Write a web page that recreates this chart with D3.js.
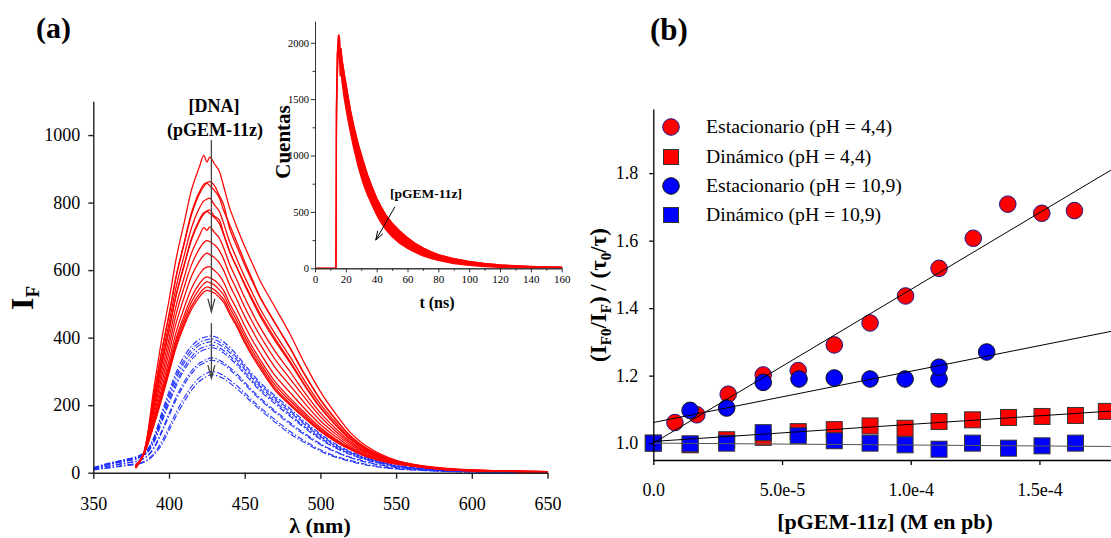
<!DOCTYPE html>
<html><head><meta charset="utf-8">
<script src="https://cdn.jsdelivr.net/npm/d3@7"></script>
<style>
body{margin:0;background:#fff}
svg{display:block}
text{font-family:"Liberation Serif","Times New Roman","DejaVu Serif",serif;fill:#000}
</style>
</head><body>
<svg id="c" width="1111" height="538"></svg>
<script>
// ---------- Panel (a): emission spectra ----------
const lambdaRed = [378,383,390,395,400,405,410,415,420,423,425,427,430,433,436,440,445,450,455,460,470,480,490,500,510,520,530,545,560,580,600,625,650];
const redSpectra = [
 [18,55,250,390,510,640,740,840,905,940,920,935,915,895,850,785,725,670,620,570,490,410,320,240,175,118,80,45,26,14,8,5,3],
 [18,54,229,356,469,589,681,772,831,854,859,862,850,823,795,724,668,615,567,520,443,370,289,217,159,108,74,42,25,13,8,5,3],
 [20,53,227,354,465,585,677,766,825,848,857,850,836,817,778,735,680,625,573,522,444,368,287,216,158,108,73,42,25,13,8,5,3],
 [16,53,215,334,442,556,643,727,783,805,810,813,793,776,740,685,631,580,533,487,412,343,269,203,149,102,70,40,24,13,7,5,3],
 [22,53,205,319,423,533,616,696,749,770,775,778,760,750,710,657,606,555,509,465,391,325,255,192,141,98,67,39,24,12,7,5,3],
 [14,52,203,316,420,529,612,691,744,766,773,768,756,740,706,655,606,560,515,472,398,330,258,194,142,98,67,39,24,12,7,5,3],
 [18,52,192,297,396,500,578,652,701,726,718,728,712,696,667,618,569,519,474,432,360,299,235,177,131,92,63,37,23,12,7,4,2],
 [20,52,181,280,375,474,549,617,663,682,687,684,675,660,634,587,540,491,447,407,336,278,220,166,123,87,60,36,22,11,6,4,2],
 [15,51,170,263,354,448,519,583,626,644,650,646,637,623,600,557,511,463,421,382,312,258,204,154,115,82,57,34,22,11,6,4,2],
 [19,51,159,246,333,421,488,547,587,604,609,610,599,586,565,525,482,435,393,356,288,237,188,143,107,77,54,33,21,10,6,4,2],
 [17,50,151,233,317,402,466,521,559,575,580,577,570,558,540,502,460,414,373,336,270,221,176,134,100,73,51,32,21,10,6,4,2],
 [21,50,147,226,308,392,454,507,544,560,565,563,556,543,527,490,448,403,362,326,260,213,170,129,97,71,50,31,20,10,6,4,2],
 [13,50,143,219,300,382,443,494,530,545,550,548,542,529,514,478,437,392,352,317,251,205,164,125,94,69,49,30,20,10,6,4,2],
 [18,50,140,215,295,375,435,485,520,535,540,538,532,520,505,470,430,385,345,310,245,200,160,122,92,68,48,30,20,10,6,4,2]
];
const lambdaBlue = [350,360,370,380,385,390,395,400,405,410,415,420,425,428,432,436,440,445,450,455,460,470,480,490,500,510,520,530,540,550,565,580,600,625,650];
const blueSpectra = [
 [15,28,38,50,65,105,175,240,300,345,375,395,403,405,400,388,372,348,320,293,268,228,190,150,115,85,62,45,32,22,13,8,5,3,2],
 [14,27,37,48,63,101,168,231,290,334,365,385,394,396,391,379,364,340,313,286,262,222,184,145,111,82,60,43,31,21,13,8,5,3,2],
 [14,26,35,46,60,97,161,223,281,325,356,377,386,388,383,372,356,333,306,280,256,216,179,141,107,79,58,42,30,20,12,7,5,3,2],
 [13,25,34,44,58,93,153,213,269,313,344,366,375,378,373,362,347,325,298,273,249,210,172,135,103,76,55,40,28,19,12,7,4,3,2],
 [13,24,33,43,56,89,147,205,260,304,335,357,367,370,366,355,340,318,292,267,243,204,167,131,99,73,53,38,27,19,11,7,4,2,2],
 [11,20,28,36,47,75,122,175,227,269,302,324,336,340,336,326,312,292,268,244,222,184,148,115,86,63,46,33,23,16,10,6,3,2,1],
 [11,19,27,35,46,72,117,168,219,260,294,317,329,333,329,320,306,285,262,239,217,179,143,111,83,61,44,31,22,15,9,5,3,2,1],
 [9,15,22,28,37,57,90,135,181,222,256,281,295,300,297,288,275,257,236,214,194,157,122,93,68,49,36,25,17,12,8,4,2,1,1],
 [8,14,20,26,34,52,82,125,170,210,245,270,285,290,287,279,266,248,228,207,187,150,115,88,64,46,33,23,16,11,7,4,2,1,1]
];
const xTicksA = [350,400,450,500,550,600,650];
const yTicksA = [0,200,400,600,800,1000];

// ---------- Inset: decay ----------
const decayT  = [0,13.6,13.9,14.5,15.3,15.8,16.3,16.8,17.5,19,21,23,25,28,31,34,37,40,43,46,50,55,60,65,70,75,80,90,100,110,120,130,140,150,160];
const decayHi = [0,0,1400,1900,2070,2050,1900,1950,1850,1720,1560,1400,1270,1100,960,830,720,620,540,470,400,330,270,220,180,148,120,85,60,42,30,22,16,12,10];
const decayLo = [0,0,1200,1700,1950,1900,1700,1780,1650,1500,1340,1200,1070,900,760,650,560,470,400,340,280,220,175,140,110,88,70,42,25,15,8,5,3,2,1];
const xTicksI = [0,20,40,60,80,100,120,140,160];
const yTicksI = [0,500,1000,1500,2000];

// ---------- Panel (b): Stern-Volmer ----------
const redCircX = [0.84e-5,1.69e-5,2.91e-5,4.27e-5,5.63e-5,7.03e-5,8.42e-5,9.8e-5,1.11e-4,1.243e-4,1.377e-4,1.509e-4,1.636e-4];
const redCircY = [1.061,1.084,1.145,1.202,1.215,1.291,1.356,1.436,1.518,1.607,1.708,1.681,1.689];
const redSqX = [0,1.43e-5,2.85e-5,4.27e-5,5.63e-5,7.03e-5,8.42e-5,9.78e-5,1.11e-4,1.24e-4,1.38e-4,1.51e-4,1.64e-4,1.76e-4];
const redSqY = [1.0,0.995,1.01,1.017,1.034,1.04,1.051,1.044,1.064,1.069,1.076,1.079,1.082,1.094];
const blueCircX = [1.43e-5,2.85e-5,4.27e-5,5.66e-5,7.03e-5,8.42e-5,9.78e-5,1.11e-4,1.11e-4,1.295e-4];
const blueCircY = [1.097,1.104,1.18,1.19,1.193,1.19,1.19,1.19,1.225,1.27];
const blueSqX = [0,1.43e-5,2.85e-5,4.27e-5,5.63e-5,7.03e-5,8.42e-5,9.78e-5,1.11e-4,1.24e-4,1.38e-4,1.51e-4,1.64e-4];
const blueSqY = [1.0,0.998,1.0,1.031,1.022,1.007,1.0,0.995,0.982,1.0,0.985,0.992,1.0];
const fitIntercepts = [1.0, 1.005, 1.061, 1.0];
const fitSlopes = [4550, 506, 1519, -56];
const legendLabels = ["Estacionario (pH = 4,4)","Dinámico (pH = 4,4)","Estacionario (pH = 10,9)","Dinámico (pH = 10,9)"];
const xTicksB = [0,5e-5,1e-4,1.5e-4];
const xTickLabelsB = ["0.0","5.0e-5","1.0e-4","1.5e-4"];
const yTicksB = [1.0,1.2,1.4,1.6,1.8];

const svg = d3.select("#c");
const SERIF = '"Liberation Serif","Times New Roman","DejaVu Serif",serif';

function styleAxis(g, fs, col, w){
  g.attr("font-family",SERIF);
  g.select(".domain").attr("stroke",col).attr("stroke-width",w);
  g.selectAll(".tick line").attr("stroke",col).attr("stroke-width",w);
  g.selectAll(".tick text").attr("font-family",SERIF).attr("font-size",fs).attr("fill","#000");
}

// ===== Panel (a) =====
const xA = d3.scaleLinear().domain([350,650]).range([93.3,547.5]);
const yA = d3.scaleLinear().domain([0,1100]).range([472.7,101.3]);

const gA = svg.append("g");
const lineR = d3.line().x((d,i)=>xA(lambdaRed[i])).y(d=>yA(d)).curve(d3.curveCatmullRom.alpha(0.5));
const lineB = d3.line().x((d,i)=>xA(lambdaBlue[i])).y(d=>yA(d)).curve(d3.curveCatmullRom.alpha(0.5));

gA.selectAll("path.blue").data(blueSpectra).join("path").attr("class","blue")
  .attr("d",lineB).attr("fill","none").attr("stroke","#2030ff").attr("stroke-width",1.1)
  .attr("stroke-dasharray","6,2,1.5,2");
gA.selectAll("path.red").data(redSpectra).join("path").attr("class","red")
  .attr("d",lineR).attr("fill","none").attr("stroke","#ff0000").attr("stroke-width",1.25);

const fmtInt = d3.format("d");
const axXA = svg.append("g").attr("transform","translate(0,472.7)")
  .call(d3.axisBottom(xA).tickValues(xTicksA).tickFormat(fmtInt).tickSize(6).tickPadding(19).tickSizeOuter(0));
styleAxis(axXA,18,"#222",1.4);
const axYA = svg.append("g").attr("transform","translate(93.3,0)")
  .call(d3.axisLeft(yA).tickValues(yTicksA).tickFormat(fmtInt).tickSize(5).tickPadding(8).tickSizeOuter(0));
styleAxis(axYA,18,"#222",1.4);

// arrows
function arrow(g, x1,y1,x2,y2,col,w,hl,hw){
  g.append("line").attr("x1",x1).attr("y1",y1).attr("x2",x2).attr("y2",y2).attr("stroke",col).attr("stroke-width",w);
  const a = Math.atan2(y2-y1,x2-x1);
  const p1=[x2-hl*Math.cos(a)+hw*Math.sin(a), y2-hl*Math.sin(a)-hw*Math.cos(a)];
  const p2=[x2-hl*Math.cos(a)-hw*Math.sin(a), y2-hl*Math.sin(a)+hw*Math.cos(a)];
  g.append("path").attr("d",`M${p1[0]},${p1[1]}L${x2},${y2}L${p2[0]},${p2[1]}`)
    .attr("fill","none").attr("stroke",col).attr("stroke-width",w);
}
arrow(gA, xA(428), yA(985), xA(428), yA(477), "#444", 1.3, 13, 3.5);
arrow(gA, xA(428), yA(443), xA(428), yA(280), "#444", 1.3, 13, 3.5);

svg.append("text").attr("x",214).attr("y",112).attr("text-anchor","middle")
  .attr("font-weight","bold").attr("font-size",18).text("[DNA]");
svg.append("text").attr("x",215).attr("y",136).attr("text-anchor","middle")
  .attr("font-weight","bold").attr("font-size",18).text("(pGEM-11z)");

const ifl = svg.append("text").attr("transform","translate(33,298) rotate(-90)").attr("text-anchor","middle")
  .attr("font-weight","bold").attr("font-size",32);
ifl.append("tspan").text("I");
ifl.append("tspan").attr("font-size",19).attr("dy",6).text("F");

svg.append("text").attr("x",320).attr("y",533).attr("text-anchor","middle")
  .attr("font-weight","bold").attr("font-size",22).text("λ (nm)");

svg.append("text").attr("x",36).attr("y",38).attr("font-weight","bold").attr("font-size",30).text("(a)");

// ===== Inset =====
const xI = d3.scaleLinear().domain([0,160]).range([315,561.7]);
const yI = d3.scaleLinear().domain([0,2190]).range([268.3,21.3]);
const gI = svg.append("g");
const areaI = d3.area().x((d,i)=>xI(decayT[i])).y0((d,i)=>yI(decayLo[i])).y1(d=>yI(d));
gI.append("path").attr("d",areaI(decayHi)).attr("fill","#ff0000").attr("stroke","#ff0000").attr("stroke-width",1.2);
gI.append("path").attr("d",d3.line().x((d,i)=>xI(decayT[i])).y(d=>yI(d))(decayHi))
  .attr("fill","none").attr("stroke","#ff0000").attr("stroke-width",1.5);

const axXI = svg.append("g").attr("transform","translate(0,268.3)")
  .call(d3.axisBottom(xI).tickValues(xTicksI).tickFormat(fmtInt).tickSize(4).tickPadding(3).tickSizeOuter(0));
styleAxis(axXI,11,"#333",1);
const axXIm = svg.append("g").attr("transform","translate(0,268.3)")
  .call(d3.axisBottom(xI).tickValues(d3.range(10,160,20)).tickSize(2.5).tickFormat("").tickSizeOuter(0));
styleAxis(axXIm,11,"#333",1);
const axYI = svg.append("g").attr("transform","translate(315,0)")
  .call(d3.axisLeft(yI).tickValues(yTicksI).tickFormat(fmtInt).tickSize(4).tickPadding(2).tickSizeOuter(0));
styleAxis(axYI,10.5,"#333",1);
const axYIm = svg.append("g").attr("transform","translate(315,0)")
  .call(d3.axisLeft(yI).tickValues(d3.range(250,2200,500)).tickSize(2.5).tickFormat("").tickSizeOuter(0));
styleAxis(axYIm,10.5,"#333",1);

svg.append("text").attr("transform","translate(290,142) rotate(-90)").attr("text-anchor","middle")
  .attr("font-weight","bold").attr("font-size",21).text("Cuentas");
svg.append("text").attr("x",437).attr("y",308).attr("text-anchor","middle")
  .attr("font-weight","bold").attr("font-size",16).text("t (ns)");
svg.append("text").attr("x",390).attr("y",198)
  .attr("font-weight","bold").attr("font-size",13.5).text("[pGEM-11z]");
arrow(gI, xI(51.9), yI(546), xI(39.4), yI(250), "#000", 1, 9, 3);

// ===== Panel (b) =====
const xB = d3.scaleLinear().domain([0,1.778e-4]).range([653.3,1111]);
const yB = d3.scaleLinear().domain([0.95,1.99]).range([460,109]);
const gB = svg.append("g");

function circles(xs,ys,fill,stroke){
  gB.append("g").selectAll("circle").data(xs).join("circle")
    .attr("cx",d=>xB(d)).attr("cy",(d,i)=>yB(ys[i])).attr("r",8.3)
    .attr("fill",fill).attr("stroke",stroke).attr("stroke-width",1);
}
function squares(xs,ys,fill,stroke){
  const s=16;
  gB.append("g").selectAll("rect").data(xs).join("rect")
    .attr("x",d=>xB(d)-s/2).attr("y",(d,i)=>yB(ys[i])-s/2).attr("width",s).attr("height",s)
    .attr("fill",fill).attr("stroke",stroke).attr("stroke-width",1);
}
circles(redCircX,redCircY,"#ff0000","#1a1a8a");
squares(redSqX,redSqY,"#ff0000","#333");
circles(blueCircX,blueCircY,"#0000ff","#111");
squares(blueSqX,blueSqY,"#0000ff","#333");

const xMaxB = xB.domain()[1];
fitIntercepts.forEach((b0,i)=>{
  gB.append("line").attr("x1",xB(0)).attr("y1",yB(b0))
    .attr("x2",xB(xMaxB)).attr("y2",yB(b0+fitSlopes[i]*xMaxB))
    .attr("stroke", i===3 ? "#555" : "#000").attr("stroke-width",1);
});

const axXB = svg.append("g").attr("transform","translate(0,460)")
  .call(d3.axisBottom(xB).tickValues(xTicksB).tickFormat((d,i)=>xTickLabelsB[i]).tickSize(5).tickPadding(18).tickSizeOuter(0));
styleAxis(axXB,18,"#000",1.3);
const axYB = svg.append("g").attr("transform","translate(653.3,0)")
  .call(d3.axisLeft(yB).tickValues(yTicksB).tickFormat(d3.format(".1f")).tickSize(4).tickPadding(11).tickSizeOuter(0));
styleAxis(axYB,18,"#000",1.3);

// legend
const legY = [127,157,186,215];
const legShape = ["circle","square","circle","square"];
const legFill = ["#ff0000","#ff0000","#0000ff","#0000ff"];
const legStroke = ["#1a1a8a","#333","#111","#333"];
legendLabels.forEach((lab,i)=>{
  if(legShape[i]==="circle"){
    svg.append("circle").attr("cx",671).attr("cy",legY[i]).attr("r",8.3).attr("fill",legFill[i]).attr("stroke",legStroke[i]);
  } else {
    svg.append("rect").attr("x",663.5).attr("y",legY[i]-7.5).attr("width",15).attr("height",15).attr("fill",legFill[i]).attr("stroke",legStroke[i]);
  }
  svg.append("text").attr("x",706).attr("y",legY[i]+6).attr("font-size",19.7).text(lab);
});

const yl = svg.append("text").attr("transform","translate(606,295) rotate(-90)").attr("text-anchor","middle")
  .attr("font-weight","bold").attr("font-size",23);
yl.append("tspan").text("(I");
yl.append("tspan").attr("font-size",15).attr("dy",5).text("F0");
yl.append("tspan").attr("dy",-5).text("/I");
yl.append("tspan").attr("font-size",15).attr("dy",5).text("F");
yl.append("tspan").attr("dy",-5).text(") / (τ");
yl.append("tspan").attr("font-size",15).attr("dy",5).text("0");
yl.append("tspan").attr("dy",-5).text("/τ)");

svg.append("text").attr("x",885).attr("y",529).attr("text-anchor","middle")
  .attr("font-weight","bold").attr("font-size",22).text("[pGEM-11z] (M en pb)");

svg.append("text").attr("x",650).attr("y",40).attr("font-weight","bold").attr("font-size",31).text("(b)");
</script>
</body></html>
